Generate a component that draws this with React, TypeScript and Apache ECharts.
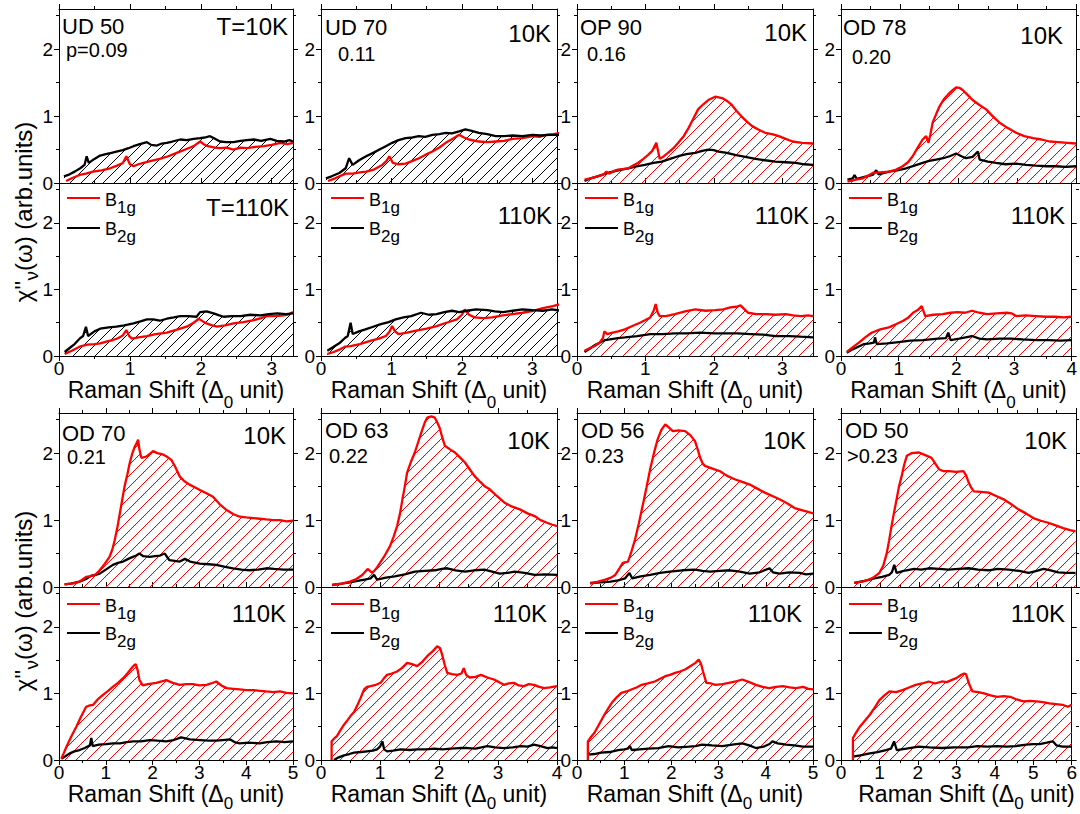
import React, { useEffect, useRef } from 'react';
import * as echarts from 'echarts';

// ---------------- DATA (x in Δ0 units, y in arb. units) ----------------
// Upper block: UD 50, UD 70, OP 90, OD 78 ; Lower block: OD 70, OD 63, OD 56, OD 50
const sampleNames = ['UD 50', 'UD 70', 'OP 90', 'OD 78', 'OD 70', 'OD 63', 'OD 56', 'OD 50'];
const dopingLabels = ['p=0.09', '0.11', '0.16', '0.20', '0.21', '0.22', '0.23', '>0.23'];
const lowTempLabels = ['T=10K', '10K', '10K', '10K', '10K', '10K', '10K', '10K'];
const highTempLabels = ['T=110K', '110K', '110K', '110K', '110K', '110K', '110K', '110K'];
const xMaxUpper = [3.3, 3.35, 3.45, 4];
const xMaxLower = [5, 4, 5, 6];
const yTickLabels = [0, 1, 2];
const yMax = 2.6;

const ud50_10K_B1g = [[0.1,0.03],[0.18,0.07],[0.29,0.12],[0.38,0.14],[0.48,0.17],[0.6,0.19],[0.72,0.22],[0.82,0.26],[0.9,0.3],[0.95,0.4],[1.0,0.28],[1.05,0.25],[1.12,0.28],[1.19,0.3],[1.3,0.33],[1.42,0.36],[1.54,0.4],[1.66,0.45],[1.78,0.5],[1.9,0.55],[1.99,0.62],[2.04,0.58],[2.1,0.55],[2.2,0.53],[2.27,0.52],[2.36,0.53],[2.46,0.5],[2.56,0.53],[2.65,0.52],[2.77,0.54],[2.89,0.55],[3.0,0.57],[3.12,0.6],[3.22,0.58],[3.3,0.6]];
const ud50_10K_B2g = [[0.07,0.1],[0.15,0.13],[0.22,0.17],[0.3,0.22],[0.36,0.27],[0.39,0.4],[0.42,0.3],[0.5,0.36],[0.58,0.41],[0.66,0.43],[0.74,0.45],[0.81,0.47],[0.9,0.49],[0.98,0.52],[1.05,0.55],[1.14,0.58],[1.24,0.61],[1.3,0.57],[1.38,0.56],[1.45,0.59],[1.52,0.6],[1.6,0.62],[1.71,0.65],[1.8,0.64],[1.9,0.66],[1.99,0.67],[2.06,0.68],[2.13,0.7],[2.2,0.66],[2.27,0.62],[2.36,0.61],[2.46,0.61],[2.56,0.63],[2.65,0.64],[2.75,0.65],[2.85,0.63],[2.98,0.66],[3.07,0.63],[3.17,0.62],[3.25,0.64],[3.3,0.62]];
const ud50_110K_B1g = [[0.08,0.03],[0.18,0.08],[0.29,0.14],[0.4,0.17],[0.5,0.18],[0.58,0.19],[0.68,0.22],[0.76,0.24],[0.84,0.27],[0.9,0.31],[0.95,0.39],[0.99,0.3],[1.03,0.26],[1.12,0.28],[1.24,0.3],[1.36,0.33],[1.52,0.35],[1.64,0.39],[1.8,0.44],[1.9,0.5],[1.97,0.56],[2.03,0.52],[2.08,0.49],[2.16,0.46],[2.23,0.44],[2.34,0.46],[2.46,0.49],[2.6,0.51],[2.75,0.54],[2.85,0.57],[2.93,0.6],[3.05,0.6],[3.17,0.61],[3.25,0.63],[3.3,0.66]];
const ud50_110K_B2g = [[0.08,0.06],[0.15,0.12],[0.22,0.18],[0.29,0.26],[0.34,0.3],[0.38,0.44],[0.41,0.3],[0.5,0.37],[0.58,0.41],[0.7,0.43],[0.81,0.44],[0.92,0.46],[1.05,0.49],[1.15,0.52],[1.24,0.55],[1.33,0.55],[1.42,0.53],[1.52,0.56],[1.62,0.58],[1.71,0.6],[1.82,0.6],[1.94,0.59],[1.99,0.66],[2.08,0.67],[2.18,0.64],[2.26,0.61],[2.32,0.59],[2.44,0.6],[2.56,0.6],[2.7,0.62],[2.84,0.61],[2.96,0.63],[3.08,0.64],[3.2,0.63],[3.3,0.64]];

const ud70_10K_B1g = [[0.1,0.03],[0.2,0.07],[0.35,0.14],[0.45,0.14],[0.55,0.16],[0.64,0.17],[0.75,0.2],[0.87,0.27],[0.93,0.33],[0.97,0.4],[1.02,0.3],[1.1,0.28],[1.2,0.29],[1.3,0.33],[1.39,0.37],[1.48,0.42],[1.58,0.47],[1.68,0.53],[1.77,0.6],[1.87,0.66],[1.96,0.72],[2.03,0.68],[2.1,0.65],[2.24,0.62],[2.36,0.61],[2.48,0.62],[2.6,0.63],[2.72,0.66],[2.86,0.67],[3.0,0.7],[3.1,0.69],[3.19,0.72],[3.3,0.73],[3.4,0.75]];
const ud70_10K_B2g = [[0.07,0.07],[0.15,0.1],[0.26,0.15],[0.35,0.22],[0.4,0.37],[0.45,0.27],[0.54,0.34],[0.64,0.4],[0.74,0.45],[0.83,0.5],[0.92,0.55],[1.01,0.6],[1.1,0.64],[1.2,0.67],[1.3,0.68],[1.39,0.7],[1.48,0.69],[1.58,0.72],[1.68,0.73],[1.77,0.75],[1.86,0.74],[1.96,0.77],[2.05,0.8],[2.14,0.78],[2.24,0.75],[2.36,0.73],[2.48,0.7],[2.6,0.7],[2.72,0.71],[2.86,0.7],[3.0,0.72],[3.12,0.71],[3.24,0.72],[3.4,0.72]];
const ud70_110K_B1g = [[0.09,0.03],[0.18,0.06],[0.27,0.1],[0.34,0.14],[0.42,0.15],[0.55,0.18],[0.71,0.23],[0.82,0.26],[0.92,0.3],[0.97,0.36],[1.01,0.45],[1.05,0.37],[1.1,0.33],[1.22,0.35],[1.35,0.38],[1.5,0.41],[1.64,0.45],[1.78,0.5],[1.93,0.55],[2.0,0.62],[2.04,0.7],[2.1,0.62],[2.18,0.58],[2.3,0.57],[2.43,0.58],[2.58,0.61],[2.72,0.63],[2.86,0.65],[3.01,0.68],[3.15,0.72],[3.29,0.75],[3.4,0.78]];
const ud70_110K_B2g = [[0.09,0.08],[0.18,0.14],[0.27,0.2],[0.34,0.27],[0.38,0.3],[0.42,0.5],[0.45,0.33],[0.54,0.37],[0.63,0.4],[0.74,0.44],[0.85,0.48],[0.96,0.51],[1.06,0.55],[1.17,0.58],[1.28,0.6],[1.42,0.65],[1.53,0.62],[1.64,0.63],[1.75,0.66],[1.86,0.68],[1.96,0.66],[2.07,0.68],[2.2,0.7],[2.36,0.69],[2.47,0.67],[2.58,0.66],[2.72,0.68],[2.86,0.7],[3.0,0.69],[3.15,0.68],[3.28,0.7],[3.4,0.68]];

const op90_10K_B1g = [[0.11,0.05],[0.2,0.07],[0.3,0.1],[0.38,0.12],[0.43,0.17],[0.47,0.14],[0.54,0.18],[0.6,0.2],[0.68,0.21],[0.75,0.22],[0.82,0.26],[0.89,0.3],[0.97,0.36],[1.04,0.42],[1.1,0.48],[1.16,0.6],[1.21,0.36],[1.27,0.4],[1.33,0.45],[1.41,0.52],[1.48,0.6],[1.56,0.7],[1.63,0.82],[1.7,0.96],[1.77,1.1],[1.85,1.18],[1.92,1.24],[2.02,1.29],[2.12,1.27],[2.2,1.22],[2.26,1.17],[2.33,1.08],[2.4,1.0],[2.48,0.92],[2.56,0.85],[2.65,0.8],[2.75,0.75],[2.85,0.73],[2.95,0.7],[3.05,0.66],[3.15,0.62],[3.29,0.6],[3.45,0.59]];
const op90_10K_B2g = [[0.11,0.03],[0.2,0.07],[0.3,0.1],[0.45,0.15],[0.6,0.19],[0.75,0.22],[0.87,0.25],[0.99,0.27],[1.12,0.3],[1.24,0.32],[1.36,0.36],[1.48,0.4],[1.6,0.43],[1.73,0.45],[1.83,0.48],[1.92,0.5],[2.0,0.49],[2.07,0.47],[2.19,0.45],[2.31,0.42],[2.46,0.39],[2.61,0.36],[2.75,0.34],[2.9,0.32],[3.05,0.31],[3.2,0.3],[3.32,0.28],[3.45,0.27]];
const op90_110K_B1g = [[0.11,0.08],[0.19,0.12],[0.26,0.15],[0.33,0.2],[0.38,0.27],[0.4,0.37],[0.44,0.33],[0.52,0.35],[0.6,0.37],[0.7,0.4],[0.81,0.45],[0.92,0.5],[1.0,0.54],[1.07,0.58],[1.12,0.68],[1.15,0.78],[1.18,0.65],[1.21,0.6],[1.3,0.6],[1.43,0.63],[1.58,0.67],[1.73,0.7],[1.88,0.68],[2.02,0.69],[2.14,0.7],[2.24,0.73],[2.33,0.74],[2.39,0.76],[2.45,0.7],[2.5,0.65],[2.62,0.63],[2.76,0.63],[2.9,0.62],[3.05,0.63],[3.16,0.61],[3.27,0.6],[3.38,0.61],[3.45,0.6]];
const op90_110K_B2g = [[0.11,0.06],[0.2,0.12],[0.27,0.17],[0.33,0.2],[0.41,0.24],[0.48,0.25],[0.6,0.27],[0.7,0.28],[0.88,0.3],[1.07,0.33],[1.25,0.33],[1.43,0.34],[1.6,0.34],[1.8,0.35],[2.0,0.34],[2.17,0.34],[2.35,0.34],[2.54,0.33],[2.72,0.32],[2.9,0.3],[3.1,0.3],[3.27,0.29],[3.45,0.28]];

const od78_10K_B1g = [[0.11,0.02],[0.25,0.05],[0.37,0.07],[0.46,0.11],[0.54,0.15],[0.66,0.16],[0.82,0.17],[0.94,0.2],[1.05,0.25],[1.14,0.31],[1.22,0.4],[1.3,0.52],[1.39,0.65],[1.45,0.7],[1.49,0.6],[1.52,0.72],[1.56,0.9],[1.62,1.03],[1.68,1.15],[1.75,1.25],[1.82,1.32],[1.89,1.38],[1.96,1.43],[2.02,1.42],[2.07,1.39],[2.15,1.32],[2.24,1.24],[2.35,1.17],[2.47,1.1],[2.58,1.0],[2.7,0.9],[2.84,0.82],[2.98,0.75],[3.12,0.7],[3.27,0.67],[3.41,0.65],[3.55,0.62],[3.7,0.61],[3.85,0.6],[4.0,0.59]];
const od78_10K_B2g = [[0.11,0.05],[0.2,0.07],[0.23,0.12],[0.27,0.06],[0.4,0.09],[0.54,0.12],[0.6,0.19],[0.64,0.13],[0.82,0.17],[0.96,0.19],[1.11,0.22],[1.25,0.26],[1.39,0.3],[1.5,0.33],[1.62,0.35],[1.74,0.37],[1.85,0.4],[1.96,0.44],[2.05,0.4],[2.13,0.37],[2.24,0.39],[2.33,0.47],[2.36,0.35],[2.5,0.32],[2.64,0.3],[2.8,0.28],[2.98,0.29],[3.15,0.27],[3.32,0.26],[3.5,0.25],[3.66,0.25],[3.82,0.24],[4.0,0.25]];
const od78_110K_B1g = [[0.1,0.06],[0.2,0.13],[0.31,0.2],[0.42,0.28],[0.53,0.35],[0.68,0.4],[0.83,0.43],[0.96,0.48],[1.08,0.53],[1.17,0.58],[1.25,0.65],[1.33,0.69],[1.4,0.75],[1.46,0.6],[1.6,0.62],[1.76,0.63],[1.9,0.65],[2.02,0.66],[2.15,0.65],[2.27,0.68],[2.4,0.65],[2.53,0.63],[2.7,0.64],[2.87,0.65],[2.96,0.64],[3.04,0.6],[3.2,0.61],[3.38,0.6],[3.55,0.59],[3.72,0.59],[3.86,0.58],[4.0,0.59]];
const od78_110K_B2g = [[0.1,0.05],[0.2,0.1],[0.3,0.14],[0.4,0.18],[0.5,0.19],[0.57,0.2],[0.59,0.28],[0.62,0.18],[0.8,0.19],[1.0,0.21],[1.2,0.23],[1.42,0.24],[1.68,0.26],[1.82,0.27],[1.86,0.35],[1.9,0.24],[2.05,0.26],[2.27,0.3],[2.4,0.26],[2.53,0.25],[2.75,0.26],[2.95,0.26],[3.15,0.25],[3.38,0.24],[3.6,0.24],[3.8,0.23],[4.0,0.24]];

const od70_10K_B1g = [[0.12,0.04],[0.25,0.05],[0.37,0.06],[0.48,0.1],[0.58,0.15],[0.65,0.16],[0.73,0.17],[0.8,0.2],[0.87,0.25],[0.98,0.35],[1.08,0.45],[1.14,0.56],[1.19,0.7],[1.25,0.9],[1.3,1.1],[1.35,1.3],[1.4,1.5],[1.46,1.68],[1.51,1.85],[1.56,1.98],[1.62,2.1],[1.66,2.15],[1.69,2.2],[1.72,2.05],[1.76,1.93],[1.87,1.95],[1.94,1.99],[2.01,2.03],[2.1,2.0],[2.22,1.98],[2.3,1.95],[2.4,1.9],[2.48,1.8],[2.58,1.65],[2.68,1.58],[2.79,1.53],[2.9,1.49],[3.01,1.45],[3.15,1.4],[3.29,1.35],[3.43,1.24],[3.58,1.15],[3.72,1.09],[3.86,1.05],[4.0,1.04],[4.15,1.03],[4.29,1.02],[4.43,1.01],[4.58,1.0],[4.72,1.0],[4.86,0.98],[5.0,0.99]];
const od70_10K_B2g = [[0.12,0.04],[0.25,0.05],[0.44,0.08],[0.58,0.12],[0.69,0.17],[0.78,0.18],[0.87,0.2],[1.0,0.26],[1.15,0.33],[1.26,0.36],[1.37,0.38],[1.48,0.42],[1.58,0.45],[1.65,0.47],[1.72,0.5],[1.8,0.46],[1.94,0.45],[2.05,0.46],[2.16,0.47],[2.26,0.5],[2.36,0.4],[2.47,0.39],[2.58,0.38],[2.69,0.42],[2.8,0.38],[3.01,0.35],[3.2,0.34],[3.36,0.33],[3.55,0.3],[3.72,0.28],[3.9,0.26],[4.07,0.25],[4.25,0.26],[4.43,0.28],[4.6,0.27],[4.8,0.26],[5.0,0.26]];
const od70_110K_B1g = [[0.05,0.02],[0.1,0.1],[0.16,0.2],[0.26,0.35],[0.37,0.5],[0.47,0.65],[0.58,0.8],[0.66,0.82],[0.73,0.83],[0.84,0.92],[0.94,0.98],[1.05,1.04],[1.15,1.1],[1.26,1.16],[1.37,1.23],[1.46,1.3],[1.55,1.38],[1.6,1.42],[1.64,1.44],[1.68,1.35],[1.72,1.2],[1.79,1.12],[1.9,1.14],[2.08,1.16],[2.19,1.18],[2.29,1.2],[2.43,1.16],[2.58,1.13],[2.72,1.14],[2.86,1.14],[3.0,1.12],[3.15,1.13],[3.25,1.15],[3.36,1.18],[3.47,1.12],[3.58,1.08],[3.72,1.07],[3.86,1.06],[4.0,1.05],[4.15,1.05],[4.29,1.04],[4.43,1.03],[4.58,1.02],[4.72,1.03],[4.86,1.01],[5.0,1.0]];
const od70_110K_B2g = [[0.05,0.02],[0.12,0.05],[0.23,0.1],[0.33,0.13],[0.44,0.15],[0.55,0.18],[0.66,0.22],[0.69,0.33],[0.72,0.21],[0.85,0.23],[1.01,0.24],[1.15,0.25],[1.3,0.25],[1.45,0.27],[1.58,0.28],[1.75,0.28],[1.94,0.3],[2.1,0.29],[2.29,0.28],[2.45,0.3],[2.61,0.34],[2.8,0.31],[3.01,0.3],[3.2,0.29],[3.36,0.29],[3.5,0.3],[3.65,0.31],[3.75,0.27],[3.86,0.25],[4.05,0.26],[4.29,0.25],[4.45,0.27],[4.64,0.28],[4.82,0.27],[5.0,0.28]];

const od63_10K_B1g = [[0.19,0.03],[0.35,0.05],[0.49,0.08],[0.6,0.12],[0.7,0.18],[0.79,0.27],[0.87,0.21],[0.94,0.28],[1.0,0.36],[1.08,0.47],[1.17,0.61],[1.23,0.75],[1.29,0.91],[1.34,1.1],[1.38,1.31],[1.42,1.5],[1.46,1.71],[1.52,1.86],[1.59,2.01],[1.66,2.2],[1.72,2.36],[1.76,2.46],[1.8,2.53],[1.87,2.55],[1.93,2.53],[1.97,2.46],[2.01,2.38],[2.06,2.22],[2.1,2.11],[2.18,2.06],[2.27,2.01],[2.35,1.94],[2.44,1.86],[2.52,1.76],[2.6,1.66],[2.7,1.57],[2.78,1.5],[2.86,1.46],[2.98,1.36],[3.11,1.26],[3.24,1.2],[3.37,1.16],[3.5,1.1],[3.62,1.06],[3.72,1.0],[3.83,0.96],[3.92,0.93],[4.0,0.91]];
const od63_10K_B2g = [[0.19,0.03],[0.35,0.05],[0.49,0.07],[0.62,0.09],[0.74,0.11],[0.84,0.13],[0.9,0.18],[0.95,0.11],[1.1,0.14],[1.25,0.16],[1.42,0.19],[1.59,0.23],[1.76,0.24],[1.93,0.25],[2.05,0.27],[2.14,0.28],[2.28,0.25],[2.44,0.23],[2.6,0.25],[2.77,0.26],[2.9,0.23],[3.03,0.2],[3.16,0.21],[3.28,0.23],[3.45,0.21],[3.62,0.18],[3.8,0.19],[4.0,0.18]];
const od63_110K_B1g = [[0.18,0],[0.18,0.28],[0.22,0.32],[0.27,0.36],[0.33,0.45],[0.39,0.53],[0.45,0.6],[0.5,0.66],[0.56,0.72],[0.61,0.81],[0.67,0.93],[0.73,1.06],[0.78,1.1],[0.84,1.11],[0.93,1.13],[1.01,1.16],[1.06,1.22],[1.12,1.28],[1.2,1.3],[1.29,1.33],[1.37,1.38],[1.46,1.46],[1.54,1.44],[1.63,1.41],[1.72,1.48],[1.8,1.56],[1.9,1.64],[1.97,1.71],[2.02,1.68],[2.06,1.56],[2.1,1.42],[2.14,1.31],[2.22,1.29],[2.31,1.28],[2.38,1.3],[2.42,1.38],[2.46,1.28],[2.52,1.24],[2.62,1.25],[2.71,1.28],[2.82,1.24],[2.93,1.21],[3.02,1.17],[3.1,1.13],[3.18,1.15],[3.27,1.16],[3.35,1.12],[3.44,1.11],[3.52,1.14],[3.61,1.13],[3.7,1.1],[3.78,1.08],[3.88,1.09],[4.0,1.11]];
const od63_110K_B2g = [[0.22,0],[0.3,0.04],[0.39,0.07],[0.48,0.09],[0.56,0.11],[0.68,0.12],[0.78,0.13],[0.88,0.14],[0.95,0.16],[1.0,0.2],[1.04,0.28],[1.07,0.16],[1.12,0.13],[1.22,0.14],[1.35,0.16],[1.5,0.15],[1.63,0.16],[1.78,0.16],[1.92,0.17],[2.06,0.16],[2.2,0.17],[2.35,0.18],[2.48,0.18],[2.62,0.17],[2.72,0.19],[2.82,0.21],[2.95,0.19],[3.1,0.18],[3.25,0.19],[3.39,0.21],[3.5,0.2],[3.61,0.23],[3.72,0.21],[3.84,0.18],[3.92,0.19],[4.0,0.18]];

const od56_10K_B1g = [[0.28,0.05],[0.45,0.08],[0.6,0.11],[0.72,0.14],[0.81,0.18],[0.9,0.28],[0.97,0.36],[1.03,0.37],[1.08,0.38],[1.15,0.52],[1.23,0.71],[1.31,0.95],[1.39,1.21],[1.47,1.48],[1.55,1.76],[1.63,2.0],[1.71,2.21],[1.79,2.35],[1.87,2.43],[1.95,2.38],[2.03,2.33],[2.15,2.34],[2.29,2.33],[2.4,2.27],[2.5,2.18],[2.56,2.05],[2.61,1.93],[2.66,1.85],[2.71,1.81],[2.87,1.77],[3.03,1.73],[3.18,1.66],[3.34,1.61],[3.5,1.57],[3.66,1.53],[3.82,1.47],[3.98,1.41],[4.14,1.36],[4.29,1.31],[4.45,1.25],[4.61,1.18],[4.8,1.14],[5.0,1.1]];
const od56_10K_B2g = [[0.28,0.06],[0.5,0.07],[0.71,0.08],[0.87,0.1],[1.02,0.13],[1.11,0.21],[1.17,0.13],[1.35,0.16],[1.55,0.18],[1.76,0.21],[1.97,0.23],[2.23,0.25],[2.5,0.26],[2.66,0.24],[2.82,0.23],[3.03,0.24],[3.24,0.25],[3.45,0.23],[3.66,0.2],[3.87,0.22],[4.08,0.28],[4.15,0.22],[4.29,0.2],[4.5,0.22],[4.72,0.21],[4.85,0.19],[5.0,0.2]];
const od56_110K_B1g = [[0.23,0],[0.23,0.28],[0.3,0.35],[0.37,0.41],[0.44,0.5],[0.51,0.59],[0.58,0.68],[0.65,0.76],[0.72,0.84],[0.76,0.88],[0.85,0.95],[0.94,1.01],[1.05,1.03],[1.15,1.06],[1.26,1.09],[1.37,1.13],[1.5,1.15],[1.65,1.18],[1.76,1.22],[1.87,1.26],[1.97,1.28],[2.08,1.31],[2.18,1.33],[2.29,1.36],[2.4,1.41],[2.51,1.46],[2.58,1.51],[2.63,1.44],[2.67,1.33],[2.74,1.16],[2.84,1.15],[2.93,1.13],[3.08,1.14],[3.22,1.16],[3.36,1.18],[3.5,1.21],[3.65,1.17],[3.79,1.13],[3.93,1.1],[4.07,1.08],[4.22,1.1],[4.36,1.11],[4.5,1.09],[4.64,1.08],[4.79,1.1],[4.9,1.07],[5.0,1.06]];
const od56_110K_B2g = [[0.23,0.08],[0.37,0.09],[0.51,0.11],[0.69,0.12],[0.87,0.15],[1.0,0.16],[1.08,0.17],[1.12,0.21],[1.16,0.15],[1.33,0.16],[1.51,0.17],[1.72,0.18],[1.94,0.21],[2.15,0.19],[2.37,0.2],[2.51,0.21],[2.65,0.23],[2.86,0.22],[3.08,0.21],[3.29,0.23],[3.5,0.25],[3.65,0.22],[3.79,0.18],[3.95,0.2],[4.08,0.24],[4.14,0.28],[4.25,0.25],[4.43,0.23],[4.6,0.22],[4.79,0.2],[5.0,0.2]];

const od50_10K_B1g = [[0.34,0.06],[0.55,0.08],[0.72,0.11],[0.85,0.15],[0.98,0.21],[1.08,0.32],[1.17,0.51],[1.23,0.7],[1.29,0.91],[1.35,1.1],[1.42,1.31],[1.48,1.5],[1.55,1.66],[1.61,1.82],[1.68,1.96],[1.8,2.0],[1.99,2.01],[2.15,1.97],[2.31,1.93],[2.4,1.85],[2.5,1.76],[2.62,1.73],[2.75,1.73],[2.94,1.72],[3.13,1.73],[3.2,1.66],[3.26,1.56],[3.33,1.48],[3.39,1.43],[3.58,1.42],[3.77,1.41],[3.96,1.36],[4.15,1.31],[4.34,1.24],[4.53,1.16],[4.72,1.1],[4.91,1.03],[5.1,0.99],[5.29,0.96],[5.48,0.92],[5.67,0.88],[5.85,0.85],[5.99,0.83]];
const od50_10K_B2g = [[0.34,0.06],[0.6,0.09],[0.85,0.13],[1.05,0.15],[1.23,0.18],[1.3,0.22],[1.36,0.33],[1.42,0.21],[1.6,0.24],[1.87,0.27],[2.05,0.26],[2.25,0.28],[2.5,0.27],[2.75,0.26],[3.0,0.27],[3.26,0.28],[3.5,0.26],[3.77,0.25],[4.0,0.27],[4.28,0.26],[4.55,0.24],[4.79,0.21],[5.0,0.24],[5.17,0.27],[5.35,0.25],[5.55,0.22],[5.75,0.21],[5.99,0.21]];
const od50_110K_B1g = [[0.31,0],[0.31,0.33],[0.4,0.42],[0.49,0.5],[0.62,0.59],[0.75,0.68],[0.88,0.79],[1.0,0.9],[1.13,0.97],[1.26,1.03],[1.43,1.02],[1.6,1.05],[1.77,1.09],[1.94,1.13],[2.11,1.15],[2.28,1.18],[2.45,1.15],[2.62,1.18],[2.75,1.17],[2.87,1.2],[3.0,1.23],[3.13,1.28],[3.2,1.3],[3.25,1.29],[3.3,1.2],[3.34,1.13],[3.42,1.03],[3.57,1.02],[3.72,1.0],[3.89,0.97],[4.06,0.95],[4.23,0.96],[4.4,0.95],[4.57,0.91],[4.74,0.88],[4.91,0.89],[5.08,0.88],[5.25,0.87],[5.42,0.85],[5.59,0.84],[5.76,0.83],[5.9,0.8],[6.0,0.83]];
const od50_110K_B2g = [[0.31,0.05],[0.5,0.07],[0.75,0.1],[0.95,0.12],[1.17,0.15],[1.3,0.17],[1.38,0.28],[1.45,0.15],[1.7,0.17],[2.02,0.2],[2.3,0.19],[2.62,0.18],[2.95,0.19],[3.3,0.19],[3.55,0.21],[3.81,0.2],[4.06,0.21],[4.31,0.2],[4.55,0.21],[4.82,0.23],[5.0,0.24],[5.17,0.24],[5.35,0.26],[5.51,0.28],[5.6,0.22],[5.76,0.2],[6.0,0.2]];

// per sample: [10K B1g, 10K B2g, 110K B1g, 110K B2g], and which channel is hatched
const sampleData = [
  [ud50_10K_B1g, ud50_10K_B2g, ud50_110K_B1g, ud50_110K_B2g],
  [ud70_10K_B1g, ud70_10K_B2g, ud70_110K_B1g, ud70_110K_B2g],
  [op90_10K_B1g, op90_10K_B2g, op90_110K_B1g, op90_110K_B2g],
  [od78_10K_B1g, od78_10K_B2g, od78_110K_B1g, od78_110K_B2g],
  [od70_10K_B1g, od70_10K_B2g, od70_110K_B1g, od70_110K_B2g],
  [od63_10K_B1g, od63_10K_B2g, od63_110K_B1g, od63_110K_B2g],
  [od56_10K_B1g, od56_10K_B2g, od56_110K_B1g, od56_110K_B2g],
  [od50_10K_B1g, od50_10K_B2g, od50_110K_B1g, od50_110K_B2g],
];
const hatchedChannel = ['B2g', 'B2g', 'B1g', 'B1g', 'B1g', 'B1g', 'B1g', 'B1g'];

// ---------------- LAYOUT ----------------
const FONT = '"Liberation Sans", Arial, Helvetica, sans-serif';
const RED = '#ff0000';
const BLACK = '#000000';
const COL_LEFT = [59, 321, 577, 841];
const COL_W = [234, 236, 236, 235];
const ROW_TOP = [9, 183, 413, 587];
const ROW_H = [174, 173, 174, 173];

// annotation offsets per sample [name dx, name cy, dop dx, dop cy, tempLow rightInset, tempLow cy, tempHigh rightInset, tempHigh cy]
const annot = [
  [3, 26, 7, 50, 5, 26, 4, 207],
  [4, 27, 17, 54, 6, 33, 5, 215],
  [3, 27, 10, 54, 6, 32, 4, 215],
  [2, 27, 11, 57, 13, 35, 11, 215],
  [3, 433, 8, 457, 7, 435, 7, 613],
  [4, 430, 8, 456, 7, 440, 10, 613],
  [4, 430, 8, 456, 7, 440, 11, 613],
  [4, 430, 6, 456, 9, 440, 11, 613],
];

function makeHatch(color: string) {
  const s = 11;
  const c = document.createElement('canvas');
  c.width = s;
  c.height = s;
  const ctx = c.getContext('2d')!;
  ctx.strokeStyle = color;
  ctx.lineWidth = 1;
  ctx.beginPath();
  ctx.moveTo(0, s);
  ctx.lineTo(s, 0);
  ctx.moveTo(-2, 2);
  ctx.lineTo(2, -2);
  ctx.moveTo(s - 2, s + 2);
  ctx.lineTo(s + 2, s - 2);
  ctx.stroke();
  return { image: c.toDataURL(), repeat: 'repeat', imageWidth: s, imageHeight: s };
}

function range(from: number, to: number, step: number) {
  const out: number[] = [];
  for (let v = from; v <= to + 1e-9; v += step) out.push(Math.round(v * 100) / 100);
  return out;
}

function buildOption() {
  const hatchRed = makeHatch(RED);
  const hatchBlack = makeHatch(BLACK);
  const grid: any[] = [];
  const xAxis: any[] = [];
  const yAxis: any[] = [];
  const series: any[] = [];
  const graphic: any[] = [];

  const txt = (x: number, y: number, text: string, size: number, align = 'left') => ({
    type: 'text', x, y, silent: true,
    style: { text, fill: BLACK, fontSize: size, fontFamily: FONT, align, verticalAlign: 'middle' },
  });
  const tok = (size: number, lh: number, va: string) => ({
    fontSize: size, lineHeight: lh, verticalAlign: va, fontFamily: FONT, fill: BLACK, color: BLACK,
  });

  for (let s = 0; s < 8; s++) {
    const block = s < 4 ? 0 : 1;
    const col = s % 4;
    const xm = block === 0 ? xMaxUpper[col] : xMaxLower[col];
    const ints = range(0, xm, 1);
    const halves = range(0.5, xm, 1);
    for (let hi = 0; hi < 2; hi++) {
      const row = block * 2 + hi;
      const isTop = hi === 0;
      const g = { left: COL_LEFT[col], top: ROW_TOP[row], width: COL_W[col], height: ROW_H[row], show: false };
      const gMain = grid.length;
      grid.push({ ...g });
      const gMinor = grid.length;
      grid.push({ ...g });
      const line = { show: true, onZero: false, lineStyle: { color: BLACK, width: 1 } };
      const noLine = { show: false, onZero: false };
      const tickStyle = { color: BLACK, width: 1 };
      const base = { type: 'value', min: 0, max: xm, splitLine: { show: false }, silent: true };
      const xMainIdx = xAxis.length;
      xAxis.push({
        ...base, gridIndex: gMain, position: 'bottom', axisLine: line,
        axisTick: { show: true, inside: isTop, length: 5, customValues: ints, lineStyle: tickStyle },
        axisLabel: { show: !isTop, customValues: ints, color: BLACK, fontSize: 19, fontFamily: FONT, margin: 3 },
      });
      xAxis.push({
        ...base, gridIndex: gMain, position: 'top', axisLine: line,
        axisTick: { show: isTop, length: 5, customValues: ints, lineStyle: tickStyle },
        axisLabel: { show: false },
      });
      xAxis.push({
        ...base, gridIndex: gMinor, position: 'bottom', axisLine: noLine,
        axisTick: { show: true, inside: isTop, length: 3, customValues: halves, lineStyle: tickStyle },
        axisLabel: { show: false },
      });
      xAxis.push({
        ...base, gridIndex: gMinor, position: 'top', axisLine: noLine,
        axisTick: { show: isTop, length: 3, customValues: halves, lineStyle: tickStyle },
        axisLabel: { show: false },
      });
      const ybase = { type: 'value', min: 0, max: yMax, splitLine: { show: false }, silent: true };
      const yMainIdx = yAxis.length;
      yAxis.push({
        ...ybase, gridIndex: gMain, position: 'left', axisLine: line,
        axisTick: { show: true, length: 5, customValues: yTickLabels, lineStyle: tickStyle },
        axisLabel: { show: true, customValues: yTickLabels, color: BLACK, fontSize: 19, fontFamily: FONT, margin: 6 },
      });
      yAxis.push({
        ...ybase, gridIndex: gMain, position: 'right', axisLine: line,
        axisTick: { show: true, length: 5, customValues: yTickLabels, lineStyle: tickStyle },
        axisLabel: { show: false },
      });
      yAxis.push({
        ...ybase, gridIndex: gMinor, position: 'left', axisLine: noLine,
        axisTick: { show: true, length: 3, customValues: [0.5, 1.5, 2.5], lineStyle: tickStyle },
        axisLabel: { show: false },
      });
      yAxis.push({
        ...ybase, gridIndex: gMinor, position: 'right', axisLine: noLine,
        axisTick: { show: true, length: 3, customValues: [0.5, 1.5, 2.5], lineStyle: tickStyle },
        axisLabel: { show: false },
      });

      const b1 = sampleData[s][hi * 2];
      const b2 = sampleData[s][hi * 2 + 1];
      const hatchB1 = hatchedChannel[s] === 'B1g';
      const hatchData = hatchB1 ? b1 : b2;
      series.push({
        type: 'line', xAxisIndex: xMainIdx, yAxisIndex: yMainIdx, data: hatchData,
        showSymbol: false, symbol: 'none', silent: true, z: 1,
        lineStyle: { width: 0, opacity: 0 },
        areaStyle: { color: hatchB1 ? hatchRed : hatchBlack, opacity: 1, origin: 'start' },
      });
      const lines = hatchB1 ? [[b2, BLACK], [b1, RED]] : [[b1, RED], [b2, BLACK]];
      for (const [d, c] of lines) {
        series.push({
          type: 'line', xAxisIndex: xMainIdx, yAxisIndex: yMainIdx, data: d,
          showSymbol: false, symbol: 'none', silent: true, z: 2,
          lineStyle: { color: c, width: 2.3 }, itemStyle: { color: c },
        });
      }

      const left = COL_LEFT[col];
      const right = COL_LEFT[col] + COL_W[col];
      const a = annot[s];
      if (isTop) {
        graphic.push(txt(left + a[0], a[1], sampleNames[s], 22));
        graphic.push(txt(left + a[2], a[3], dopingLabels[s], 20));
        graphic.push(txt(right - a[4], a[5], lowTempLabels[s], 24, 'right'));
      } else {
        graphic.push(txt(right - a[6], a[7], highTempLabels[s], 24, 'right'));
        // legend
        const redY = block === 0 ? 198 : 604;
        const blackY = block === 0 ? 228 : 633;
        const lx0 = left + (col === 1 ? 10 : 8);
        const lx1 = lx0 + 33;
        graphic.push({ type: 'line', silent: true, shape: { x1: lx0, y1: redY, x2: lx1, y2: redY }, style: { stroke: RED, lineWidth: 2 } });
        graphic.push({ type: 'line', silent: true, shape: { x1: lx0, y1: blackY, x2: lx1, y2: blackY }, style: { stroke: BLACK, lineWidth: 2 } });
        const rich = { m: tok(18, 18, 'top'), s: tok(17, 25, 'bottom') };
        graphic.push({ type: 'text', x: lx1 + 5, y: redY + 2 - 9, silent: true, style: { text: '{m|B}{s|1g}', rich, align: 'left', verticalAlign: 'top', fill: BLACK } });
        graphic.push({ type: 'text', x: lx1 + 5, y: blackY + 1 - 9, silent: true, style: { text: '{m|B}{s|2g}', rich, align: 'left', verticalAlign: 'top', fill: BLACK } });
        // x-axis title
        const cx = (left + right) / 2 + (s === 7 ? 8 : 0);
        const cy = block === 0 ? 390 : 794;
        graphic.push({
          type: 'text', x: cx, y: cy - 11.5, silent: true,
          style: {
            text: '{m|Raman Shift (Δ}{s|0}{m| unit)}', align: 'center', verticalAlign: 'top', fill: BLACK,
            rich: { m: tok(23, 23, 'top'), s: tok(17, block === 0 ? 32 : 29, 'bottom') },
          },
        });
      }
    }
  }

  // y-axis titles
  for (const cy of [212, 601]) {
    graphic.push({
      type: 'text', x: 26, y: cy, rotation: Math.PI / 2, silent: true,
      style: {
        text: "{m|χ''}{s|ν}{m|(ω) (arb.units)}", align: 'center', verticalAlign: 'middle', fill: BLACK,
        rich: { m: tok(24, 24, 'top'), s: tok(19, 29, 'bottom') },
      },
    });
  }

  return { animation: false, backgroundColor: '#ffffff', grid, xAxis, yAxis, series, graphic };
}

export default function App() {
  const ref = useRef<HTMLDivElement>(null);
  useEffect(() => {
    document.body.style.margin = '0';
    const chart = echarts.init(ref.current!, null, { renderer: 'svg' });
    chart.setOption(buildOption() as any);
    return () => chart.dispose();
  }, []);
  return <div ref={ref} style={{ width: 1080, height: 814 }} />;
}
